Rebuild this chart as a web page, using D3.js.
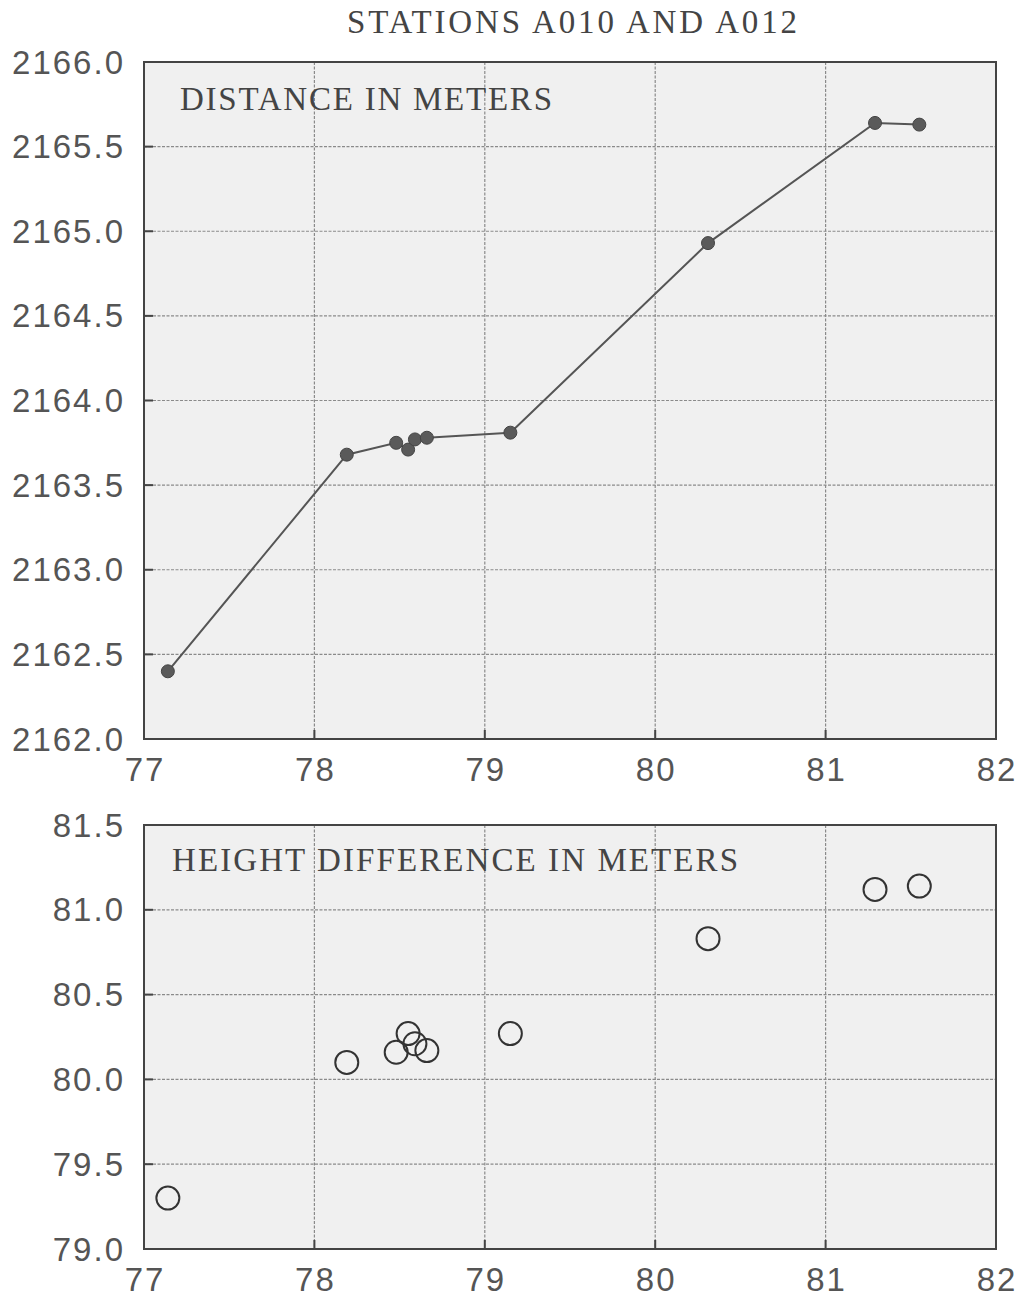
<!DOCTYPE html>
<html lang="en">
<head>
    <meta charset="UTF-8">
    <title>Stations A010 and A012</title>
    <script src="https://d3js.org/d3.v7.min.js"></script>
    <style>
        body { margin: 0; background: #fff; }
        .tick-label {
            font-family: 'Liberation Sans', sans-serif;
            font-size: 33px;
            letter-spacing: 2px;
            fill: #555;
        }
        .serif {
            font-family: 'Liberation Serif', serif;
            fill: #444;
        }
    </style>
</head>
<body>
<script>
    const width  = 1023;
    const height = 1301;

    // x = shared abscissa of both panels
    const xValues = [77.14, 78.19, 78.48, 78.55, 78.59, 78.66, 79.15, 80.31, 81.29, 81.55];
    const distance = [2162.40, 2163.68, 2163.75, 2163.71, 2163.77, 2163.78, 2163.81, 2164.93, 2165.64, 2165.63];
    const heightDiff = [79.30, 80.10, 80.16, 80.27, 80.21, 80.17, 80.27, 80.83, 81.12, 81.14];

    const xTicks = [77, 78, 79, 80, 81, 82];
    const distTicks = [2162.0, 2162.5, 2163.0, 2163.5, 2164.0, 2164.5, 2165.0, 2165.5, 2166.0];
    const heightTicks = [79.0, 79.5, 80.0, 80.5, 81.0, 81.5];

    const title = "STATIONS A010 AND A012";

    const svg = d3.select("body").append("svg").attr("width", width).attr("height", height);

    svg.append("text")
        .attr("class", "serif")
        .attr("x", 347).attr("y", 33)
        .attr("font-size", 33)
        .attr("textLength", 450).attr("lengthAdjust", "spacing")
        .text(title);

    function panel(opts) {
        const x = d3.scaleLinear().domain([77, 82]).range([144, 996]);
        const y = d3.scaleLinear().domain(opts.domain).range([opts.bottom, opts.top]);
        const g = svg.append("g");

        g.append("rect")
            .attr("x", x(77)).attr("y", y.range()[1])
            .attr("width", x(82) - x(77)).attr("height", opts.bottom - opts.top)
            .attr("fill", "#f0f0f0");

        // grid
        g.selectAll(".hgrid").data(opts.ticks.slice(1, -1)).enter().append("line")
            .attr("x1", x(77)).attr("x2", x(82))
            .attr("y1", d => y(d)).attr("y2", d => y(d))
            .attr("stroke", "#8a8a8a").attr("stroke-width", 1.2)
            .attr("stroke-dasharray", "3,1.5");
        g.selectAll(".vgrid").data(xTicks.slice(1, -1)).enter().append("line")
            .attr("x1", d => x(d)).attr("x2", d => x(d))
            .attr("y1", opts.top).attr("y2", opts.bottom)
            .attr("stroke", "#8a8a8a").attr("stroke-width", 1.2)
            .attr("stroke-dasharray", "3,1.5");

        // inward ticks
        g.selectAll(".ytick").data(opts.ticks).enter().append("line")
            .attr("x1", x(77)).attr("x2", x(77) + 9)
            .attr("y1", d => y(d)).attr("y2", d => y(d))
            .attr("stroke", "#444").attr("stroke-width", 2);
        g.selectAll(".xtick").data(xTicks).enter().append("line")
            .attr("x1", d => x(d)).attr("x2", d => x(d))
            .attr("y1", opts.bottom).attr("y2", opts.bottom - 9)
            .attr("stroke", "#444").attr("stroke-width", 2);

        // frame
        g.append("rect")
            .attr("x", x(77)).attr("y", opts.top)
            .attr("width", x(82) - x(77)).attr("height", opts.bottom - opts.top)
            .attr("fill", "none").attr("stroke", "#444").attr("stroke-width", 2);

        // tick labels
        g.selectAll(".ylab").data(opts.ticks).enter().append("text")
            .attr("class", "tick-label")
            .attr("x", 125).attr("y", d => y(d))
            .attr("text-anchor", "end").attr("dominant-baseline", "central")
            .text(d => d.toFixed(1));
        g.selectAll(".xlab").data(xTicks).enter().append("text")
            .attr("class", "tick-label")
            .attr("x", d => x(d) + 1).attr("y", opts.bottom + 42)
            .attr("text-anchor", "middle")
            .text(d => d);

        g.append("text")
            .attr("class", "serif")
            .attr("x", opts.labelX).attr("y", opts.labelY)
            .attr("font-size", 33)
            .attr("textLength", opts.labelW).attr("lengthAdjust", "spacing")
            .text(opts.label);

        return {g, x, y};
    }

    const distPanel = panel({
        domain: [2162, 2166], top: 62, bottom: 739, ticks: distTicks,
        label: "DISTANCE IN METERS", labelX: 180, labelY: 110, labelW: 372
    });
    const pts = xValues.map((d, i) => [d, distance[i]]);
    const line = d3.line().x(d => distPanel.x(d[0])).y(d => distPanel.y(d[1]));
    distPanel.g.append("path")
        .attr("d", line(pts))
        .attr("fill", "none").attr("stroke", "#555").attr("stroke-width", 2);
    distPanel.g.selectAll(".dot").data(pts).enter().append("circle")
        .attr("cx", d => distPanel.x(d[0])).attr("cy", d => distPanel.y(d[1]))
        .attr("r", 6.5).attr("fill", "#5a5a5a").attr("stroke", "#444").attr("stroke-width", 1);

    const heightPanel = panel({
        domain: [79, 81.5], top: 825, bottom: 1249, ticks: heightTicks,
        label: "HEIGHT DIFFERENCE IN METERS", labelX: 172, labelY: 871, labelW: 566
    });
    heightPanel.g.selectAll(".ring").data(xValues.map((d, i) => [d, heightDiff[i]])).enter().append("circle")
        .attr("cx", d => heightPanel.x(d[0])).attr("cy", d => heightPanel.y(d[1]))
        .attr("r", 11.5).attr("fill", "none").attr("stroke", "#333").attr("stroke-width", 2);
</script>
</body>
</html>
